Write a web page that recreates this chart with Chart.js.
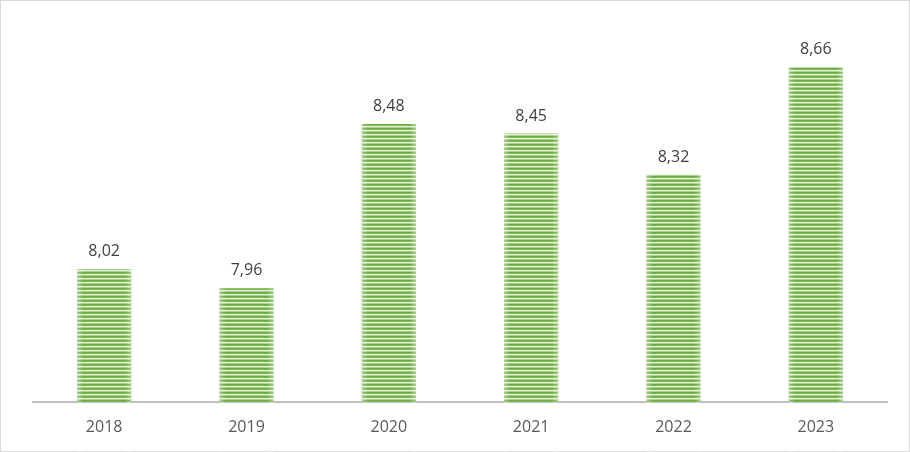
<!DOCTYPE html>
<html>
<head>
<meta charset="utf-8">
<script src="https://cdn.jsdelivr.net/npm/chart.js@4"></script>
<style>
  html, body { margin: 0; padding: 0; background: #fff; }
  #wrap { width: 910px; height: 452px; position: relative; }
</style>
</head>
<body>
<div id="wrap"><canvas id="barChart" width="910" height="452"></canvas></div>
<script>
const years = ['2018', '2019', '2020', '2021', '2022', '2023'];
const values = [8.02, 7.96, 8.48, 8.45, 8.32, 8.66];
const yMin = 7.6;
const yMax = 8.8;

// striped fill like the Excel pattern
function stripes() {
  const c = document.createElement('canvas');
  c.width = 4;
  c.height = 4;
  const g = c.getContext('2d');
  const rows = ['#6aab3f', '#7fb955', '#e2efd6', '#a9d08c'];
  rows.forEach((col, i) => {
    g.fillStyle = col;
    g.fillRect(0, i, 4, 1);
  });
  return g.createPattern(c, 'repeat');
}

const frame = {
  id: 'frame',
  beforeDraw(chart) {
    const ctx = chart.ctx;
    ctx.save();
    ctx.fillStyle = '#ffffff';
    ctx.fillRect(0, 0, chart.width, chart.height);
    ctx.strokeStyle = '#d9d9d9';
    ctx.lineWidth = 1;
    ctx.strokeRect(0.5, 0.5, chart.width - 1, chart.height - 1);
    ctx.restore();
  },
};

// soften the bar sides a little and write the values above the bars
const barLabels = {
  id: 'barLabels',
  afterDatasetsDraw(chart) {
    const ctx = chart.ctx;
    const meta = chart.getDatasetMeta(0);
    ctx.save();
    meta.data.forEach((bar, i) => {
      const left = bar.x - bar.width / 2;
      const right = bar.x + bar.width / 2;
      const grad = ctx.createLinearGradient(left, 0, right, 0);
      grad.addColorStop(0, 'rgba(255,255,255,0.35)');
      grad.addColorStop(0.12, 'rgba(255,255,255,0)');
      grad.addColorStop(0.88, 'rgba(255,255,255,0)');
      grad.addColorStop(1, 'rgba(255,255,255,0.35)');
      ctx.fillStyle = grad;
      ctx.fillRect(left, bar.y, bar.width, bar.base - bar.y);

      ctx.fillStyle = '#404040';
      ctx.font = '16px "Open Sans", sans-serif';
      ctx.textAlign = 'center';
      ctx.textBaseline = 'alphabetic';
      ctx.fillText(values[i].toFixed(2).replace('.', ','), bar.x, bar.y - 13);
    });
    ctx.restore();
  },
};

const config = {
  type: 'bar',
  data: {
    labels: years,
    datasets: [
      {
        data: values,
        backgroundColor: stripes(),
        borderWidth: 0,
        categoryPercentage: 1,
        barPercentage: 0.38,
      },
    ],
  },
  options: {
    responsive: false,
    animation: false,
    layout: {
      padding: { left: 33, right: 23, top: 23, bottom: 0 },
    },
    scales: {
      x: {
        grid: { display: false, drawTicks: false },
        border: { color: '#bfbfbf', width: 2 },
        ticks: {
          color: '#595959',
          font: { family: '"Open Sans", sans-serif', size: 16 },
          padding: 16,
        },
        afterFit(scale) {
          scale.height = 50;
        },
      },
      y: {
        display: false,
        min: yMin,
        max: yMax,
      },
    },
    plugins: {
      legend: { display: false },
      tooltip: { enabled: false },
    },
  },
  plugins: [frame, barLabels],
};

new Chart(document.getElementById('barChart').getContext('2d'), config);
</script>
</body>
</html>
